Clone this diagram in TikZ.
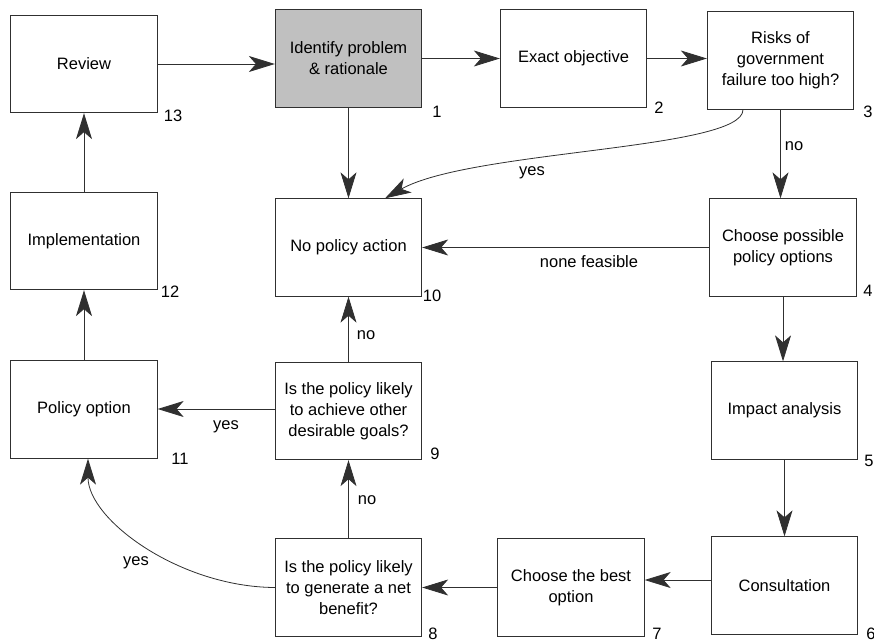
\documentclass[tikz,border=0pt]{standalone}
\usepackage{fontspec}
\setmainfont{Liberation Sans}
\usetikzlibrary{arrows.meta}
\definecolor{ln}{HTML}{303030}
\definecolor{shade}{HTML}{C0C0C0}
\tikzset{
  box/.style={draw=ln, line width=0.8pt, minimum width=146.5pt, minimum height=97.5pt,
    inner sep=0pt, align=center, font=\fontsize{16.5}{21}\selectfont},
  num/.style={inner sep=0pt, font=\fontsize{16.5}{21}\selectfont},
  lab/.style={inner sep=0pt, font=\fontsize{16.5}{21}\selectfont},
  conn/.style={draw=ln, line width=0.8pt, -{Stealth[length=26pt,width=16pt,inset=7pt]}}
}
\begin{document}
\begin{tikzpicture}[x=1pt,y=-1pt]
\useasboundingbox (0,0) rectangle (874,639);
% boxes
\node[box] (review) at (84,64) {Review};
\node[box, fill=shade] (ident) at (348.5,58.5) {Identify problem\\\& rationale};
\node[box] (exact) at (573.5,58.5) {Exact objective};
\node[box] (risks) at (780.5,60.5) {Risks of\\government\\failure too high?};
\node[box] (choose) at (783,247.5) {Choose possible\\policy options};
\node[box] (nopol) at (348.5,247.5) {No policy action};
\node[box] (impl) at (84,241) {Implementation};
\node[box] (polopt) at (84,409.5) {Policy option};
\node[box] (goals) at (348.5,411) {Is the policy likely\\to achieve other\\desirable goals?};
\node[box] (netben) at (348.5,587.5) {Is the policy likely\\to generate a net\\benefit?};
\node[box] (impact) at (784.5,410.5) {Impact analysis};
\node[box] (consult) at (784.5,585.5) {Consultation};
\node[box] (best) at (571,587.5) {Choose the best\\option};
% numbers
\node[num] (n13) at (173,115.5) {13};
\node[num] (n1) at (437,112) {1};
\node[num] (n2) at (659,108) {2};
\node[num] (n3) at (868,112) {3};
\node[num] (n4) at (868,291) {4};
\node[num] (n5) at (869,461) {5};
\node[num] (n6) at (871,634) {6};
\node[num] (n7) at (657,634) {7};
\node[num] (n8) at (433,634) {8};
\node[num] (n9) at (435,454) {9};
\node[num] (n10) at (432,296) {10};
\node[num] (n11) at (180,459) {11};
\node[num] (n12) at (170,292) {12};
% edge labels
\node[lab] (lno1) at (794,146) {no};
\node[lab] (lyes1) at (532,173) {yes};
\node[lab] (lnone) at (589,262) {none feasible};
\node[lab] (lno2) at (366,335) {no};
\node[lab] (lyes2) at (226,427) {yes};
\node[lab] (lno3) at (367,500) {no};
\node[lab] (lyes3) at (136,563) {yes};
% connectors
\draw[conn] (review.east) -- (review.east -| ident.west);
\draw[conn] (ident.east) -- (exact.west);
\draw[conn] (exact.east) -- (exact.east -| risks.west);
\draw[conn] (ident.south) -- (nopol.north);
\draw[conn] (risks.south) -- (risks.south |- choose.north);
\draw[conn] ([xshift=-37.5pt]risks.south) .. controls (743,150) and (470,150) .. ([xshift=36.5pt]nopol.north);
\draw[conn] (choose.west) -- (choose.west -| nopol.east);
\draw[conn] (choose.south) -- (choose.south |- impact.north);
\draw[conn] (impact.south) -- (consult.north);
\draw[conn] ([yshift=5.5pt]consult.west) -- ([yshift=5.5pt]consult.west -| best.east);
\draw[conn] (best.west) -- (netben.east);
\draw[conn] (netben.north) -- (goals.south);
\draw[conn] (goals.north) -- (nopol.south);
\draw[conn] ([yshift=2pt]goals.west) -- ([yshift=2pt]goals.west -| polopt.east);
\draw[conn] (netben.west) .. controls (180,587) and (88,520) .. ([xshift=4pt]polopt.south);
\draw[conn] (polopt.north) -- (impl.south);
\draw[conn] (impl.north) -- (review.south);
\end{tikzpicture}
\end{document}
